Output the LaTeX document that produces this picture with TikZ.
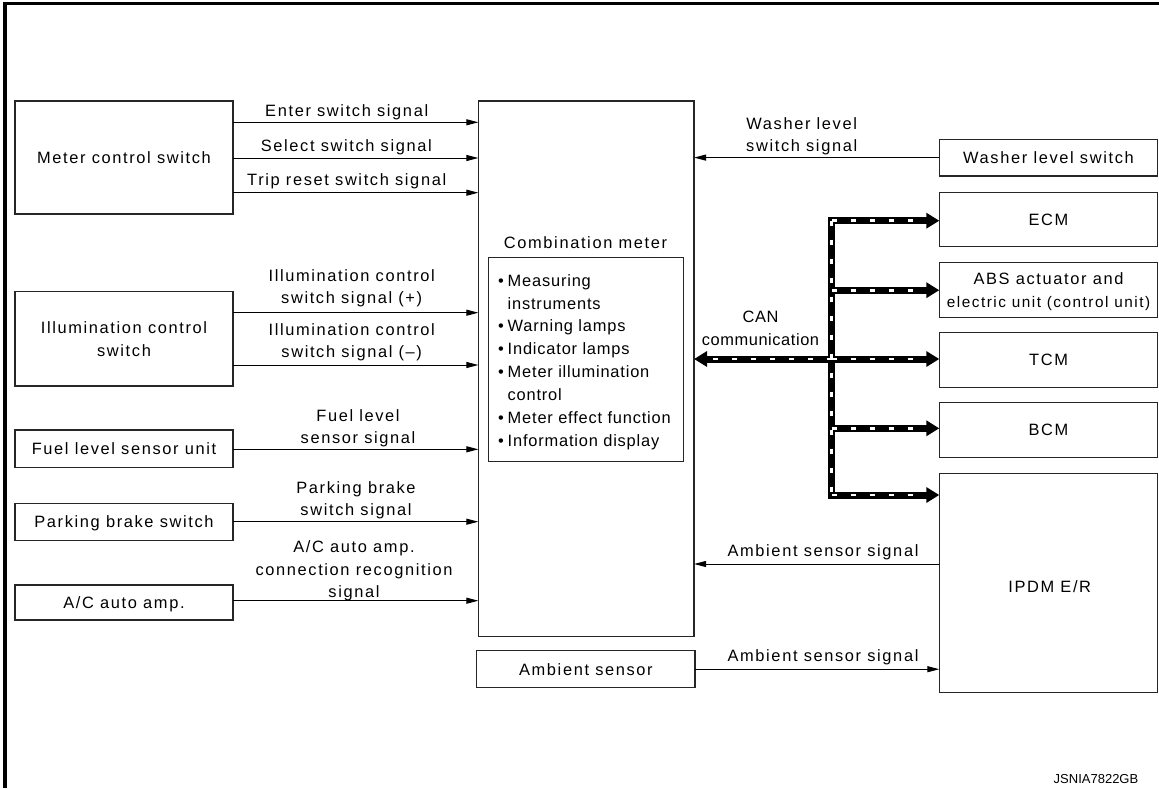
\documentclass[tikz,border=0pt]{standalone}
\usepackage{fontspec}
\setmainfont{Liberation Sans}[LetterSpace=10]
\newfontfamily\idfont{Liberation Sans}
\usetikzlibrary{arrows.meta,calc}
\newcommand\mainfs{\fontsize{16.4}{22.4}\selectfont}
\newcommand\bul{\makebox[9.5pt][l]{•}}
\begin{document}
\begin{tikzpicture}[x=1pt,y=-1pt,
  box/.style={draw=black!85, line width=1.3pt, inner sep=0pt, outer sep=0pt, text depth=0pt, align=center, font=\mainfs},
  lab/.style={anchor=north, inner sep=0pt, align=center, font=\mainfs, yshift=5.9pt},
  sig/.style={line width=1pt, -{Triangle[length=12pt,width=6pt]}},
  canbk/.style={line width=7pt, black, line join=miter},
  cantip/.style={-{Triangle[length=13pt,width=15pt]}},
  canwh/.style={line width=2.6pt, white, dash pattern=on 5pt off 14pt}]
\useasboundingbox (0,0) rectangle (1159,788);
\draw[line width=3.3pt] (5,788) -- (5,3.3) -- (1159,3.3);

% left boxes
\node[box, minimum width=218pt, minimum height=113pt] (mcs) at (124,157.5) {Meter control switch};
\node[box, minimum width=218pt, minimum height=94.3pt] (ics) at (124,338.9) {Illumination control\\switch};
\node[box, minimum width=218pt, minimum height=37.3pt] (fls) at (124,448.7) {Fuel level sensor unit};
\node[box, minimum width=218pt, minimum height=37.4pt] (pbs) at (124,522) {Parking brake switch};
\node[box, minimum width=218pt, minimum height=35pt] (aca) at (124,602.5) {A/C auto amp.};

% combination meter
\node[box, minimum width=215.7pt, minimum height=535.7pt] (cm) at (586.2,368.9) {};
\node[lab] (cmt) at (585.5,242.7) {Combination meter};
\node[box, minimum width=195pt, minimum height=204.4pt] (fn) at (585.8,359.5) {};
\node[anchor=north west, inner sep=0pt, align=left, font=\fontsize{16.4}{22.86}\selectfont\addfontfeature{LetterSpace=5}, yshift=5.9pt] (fnl) at (498,280)
  {\bul Measuring\\\hspace*{9.5pt}instruments\\\bul Warning lamps\\\bul Indicator lamps\\\bul Meter illumination\\\hspace*{9.5pt}control\\\bul Meter effect function\\\bul Information display};
\node[box, minimum width=218.3pt, minimum height=37pt] (amb) at (585.9,669.2) {Ambient sensor};

% right boxes
\node[box, minimum width=218.4pt, minimum height=36.7pt] (wls) at (1048.5,157.6) {Washer level switch};
\node[box, minimum width=218.4pt, minimum height=54pt] (ecm) at (1048.5,219.7) {ECM};
\node[box, minimum width=218.4pt, minimum height=55pt] (abs) at (1048.5,290.2) {ABS actuator and\\{\fontsize{15.3}{22}\selectfont electric unit (control unit)}};
\node[box, minimum width=218.4pt, minimum height=55pt] (tcm) at (1048.5,359.8) {TCM};
\node[box, minimum width=218.4pt, minimum height=55pt] (bcm) at (1048.5,429.8) {BCM};
\node[box, minimum width=218.4pt, minimum height=219pt] (ipdm) at (1048.5,582.8) {};
\node[lab] (ipdmt) at (1049.7,586) {IPDM E/R};

% left signals
\draw[sig] (mcs.east |- 0,122.3) -- (cm.west |- 0,122.3);
\draw[sig] (mcs.east |- 0,158) -- (cm.west |- 0,158);
\draw[sig] (mcs.east |- 0,192.7) -- (cm.west |- 0,192.7);
\draw[sig] (ics.east |- 0,312.7) -- (cm.west |- 0,312.7);
\draw[sig] (ics.east |- 0,365) -- (cm.west |- 0,365);
\draw[sig] (fls.east |- 0,449.3) -- (cm.west |- 0,449.3);
\draw[sig] (pbs.east |- 0,521.7) -- (cm.west |- 0,521.7);
\draw[sig] (aca.east |- 0,600.7) -- (cm.west |- 0,600.7);

\node[lab] (l1) at (346.7,110) {Enter switch signal};
\node[lab] (l2) at (346.3,145) {Select switch signal};
\node[lab] (l3) at (346.7,179) {Trip reset switch signal};
\node[lab] (l4) at (351.7,275) {Illumination control\\switch signal (+)};
\node[lab] (l5) at (351.7,329) {Illumination control\\switch signal (--)};
\node[lab] (l6) at (358,415) {Fuel level\\sensor signal};
\node[lab] (l7) at (356,487.3) {Parking brake\\switch signal};
\node[lab] (l8) at (354,546.7) {A/C auto amp.\\connection recognition\\signal};

% right signals
\draw[sig] (wls.west) -- (cm.east |- wls.west);
\draw[sig] (ipdm.west |- 0,564) -- (cm.east |- 0,564);
\draw[sig] (amb.east) -- (ipdm.west |- amb.east);
\node[lab] (l9) at (801.7,123.3) {Washer level\\switch signal};
\node[lab] (l10) at (823,550) {Ambient sensor signal};
\node[lab] (l11) at (823,655.7) {Ambient sensor signal};
\node[lab, font=\fontsize{16.4}{23.3}\selectfont\addfontfeature{LetterSpace=3.5}] (l12) at (760.5,316.7) {CAN\\communication};

% CAN bus
\coordinate (bt) at (831.7,220.7);
\coordinate (bb) at (831.7,495);
\coordinate (bm) at (831.7,359);
\coordinate (b2) at (831.7,290.2);
\coordinate (b4) at (831.7,428.3);
\draw[canbk,cantip] (bb) -- (bt) -- (ecm.west |- bt);
\draw[canbk,cantip] (bt) -- (bb) -- (ipdm.west |- bb);
\draw[canbk,cantip] (b2) -- (abs.west |- b2);
\draw[canbk,cantip] (bm) -- (tcm.west |- bm);
\draw[canbk,cantip] (b4) -- (bcm.west |- b4);
\draw[canbk,cantip] (bm) -- (cm.east |- bm);
\draw[canwh] (bt) -- (bb);
\draw[canwh, shorten >=14pt] (bt) -- (ecm.west |- bt);
\draw[canwh, shorten >=14pt] (b2) -- (abs.west |- b2);
\draw[canwh, shorten >=14pt] (bm) -- (tcm.west |- bm);
\draw[canwh, shorten >=14pt] (b4) -- (bcm.west |- b4);
\draw[canwh, shorten >=14pt] (bb) -- (ipdm.west |- bb);
\draw[canwh, shorten >=14pt] (bm) -- (cm.east |- bm);

\node[inner sep=0pt, font=\idfont\fontsize{13}{15}\selectfont] (id) at (1096,779.5) {JSNIA7822GB};
\end{tikzpicture}
\end{document}
